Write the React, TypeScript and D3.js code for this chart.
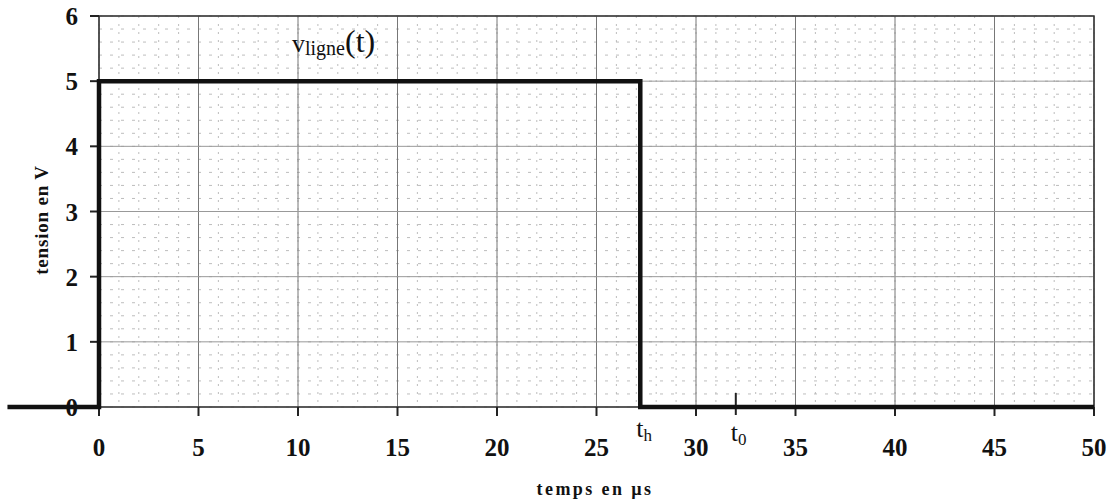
import React from "react";
import * as d3 from "d3";

const xTicks = [0, 5, 10, 15, 20, 25, 30, 35, 40, 45, 50];
const yTicks = [0, 1, 2, 3, 4, 5, 6];
const signalT = [-4.6, 0, 0, 27.2, 27.2, 50];
const signalV = [0, 0, 5, 5, 0, 0];
const thTime = 27.2;
const t0Time = 32;

const W = 1112;
const H = 502;
const M = { left: 99, right: 1094, top: 16, bottom: 407 };

export default function App() {
  const x = d3.scaleLinear().domain([0, 50]).range([M.left, M.right]);
  const y = d3.scaleLinear().domain([0, 6]).range([M.bottom, M.top]);
  const minorX = d3.range(0, 50.01, 1);
  const minorY = d3.range(0, 6.01, 0.2);
  const line = d3
    .line<number>()
    .x((_, i) => x(signalT[i]))
    .y((d) => y(d));
  const font = "'Liberation Serif', 'Times New Roman', serif";
  return (
    <svg
      width={W}
      height={H}
      style={{ position: "absolute", left: 0, top: 0, background: "#fff" }}
    >
      {/* minor grid */}
      {minorX.map((t) => (
        <line
          key={"mx" + t}
          x1={x(t)}
          x2={x(t)}
          y1={y(6)}
          y2={y(0)}
          stroke="#b5b5b5"
          strokeWidth={0.9}
          strokeDasharray="2,6"
        />
      ))}
      {minorY.map((v) => (
        <line
          key={"my" + v}
          x1={x(0)}
          x2={x(50)}
          y1={y(v)}
          y2={y(v)}
          stroke="#b5b5b5"
          strokeWidth={0.9}
          strokeDasharray="3,8"
        />
      ))}
      {/* major grid */}
      {xTicks.map((t) => (
        <line
          key={"gx" + t}
          x1={x(t)}
          x2={x(t)}
          y1={y(6)}
          y2={y(0)}
          stroke="#777"
          strokeWidth={1}
        />
      ))}
      {yTicks.map((v) => (
        <line
          key={"gy" + v}
          x1={x(0)}
          x2={x(50)}
          y1={y(v)}
          y2={y(v)}
          stroke="#999"
          strokeWidth={1}
        />
      ))}
      {/* frame */}
      <rect
        x={x(0)}
        y={y(6)}
        width={x(50) - x(0)}
        height={y(0) - y(6)}
        fill="none"
        stroke="#333"
        strokeWidth={1.5}
      />
      {/* ticks */}
      {xTicks.map((t) => (
        <line
          key={"tx" + t}
          x1={x(t)}
          x2={x(t)}
          y1={y(0)}
          y2={y(0) + 9}
          stroke="#222"
          strokeWidth={2}
        />
      ))}
      {yTicks.map((v) => (
        <line
          key={"ty" + v}
          x1={x(0) - 9}
          x2={x(0)}
          y1={y(v)}
          y2={y(v)}
          stroke="#222"
          strokeWidth={2}
        />
      ))}
      {/* t0 marker */}
      <line
        x1={x(t0Time)}
        x2={x(t0Time)}
        y1={y(0) - 14}
        y2={y(0) + 8}
        stroke="#222"
        strokeWidth={2}
      />
      {/* tick labels */}
      {xTicks.map((t) => (
        <text
          key={"lx" + t}
          x={x(t)}
          y={456}
          textAnchor="middle"
          fontFamily={font}
          fontWeight="bold"
          fontSize={25}
          fill="#111"
        >
          {t}
        </text>
      ))}
      {yTicks.map((v) => (
        <text
          key={"ly" + v}
          x={78}
          y={y(v) + 9}
          textAnchor="end"
          fontFamily={font}
          fontWeight="bold"
          fontSize={25}
          fill="#111"
        >
          {v}
        </text>
      ))}
      {/* signal */}
      <path
        d={line(signalV) || ""}
        fill="none"
        stroke="#111"
        strokeWidth={4.5}
        strokeLinejoin="miter"
      />
      {/* annotations */}
      <text x={x(thTime) - 4} y={437} fontFamily={font} fontSize={26} fill="#111">
        t<tspan fontSize={17} dy={4}>h</tspan>
      </text>
      <text x={x(t0Time) - 5} y={441} fontFamily={font} fontSize={26} fill="#111">
        t<tspan fontSize={17} dy={4}>0</tspan>
      </text>
      <text x={292} y={52} fontFamily={font} fontSize={26} fill="#111">
        v
        <tspan fontSize={20} dy={3}>ligne</tspan>
        <tspan fontSize={32} dy={-3}>(t)</tspan>
      </text>
      {/* axis titles */}
      <text
        x={595}
        y={495}
        textAnchor="middle"
        fontFamily={font}
        fontWeight="bold"
        fontSize={18}
        letterSpacing={2.4}
        fill="#111"
      >
        temps en µs
      </text>
      <text
        transform={`translate(48, ${220}) rotate(-90)`}
        textAnchor="middle"
        fontFamily={font}
        fontWeight="bold"
        fontSize={19}
        letterSpacing={0.8}
        fill="#111"
      >
        tension en V
      </text>
    </svg>
  );
}
